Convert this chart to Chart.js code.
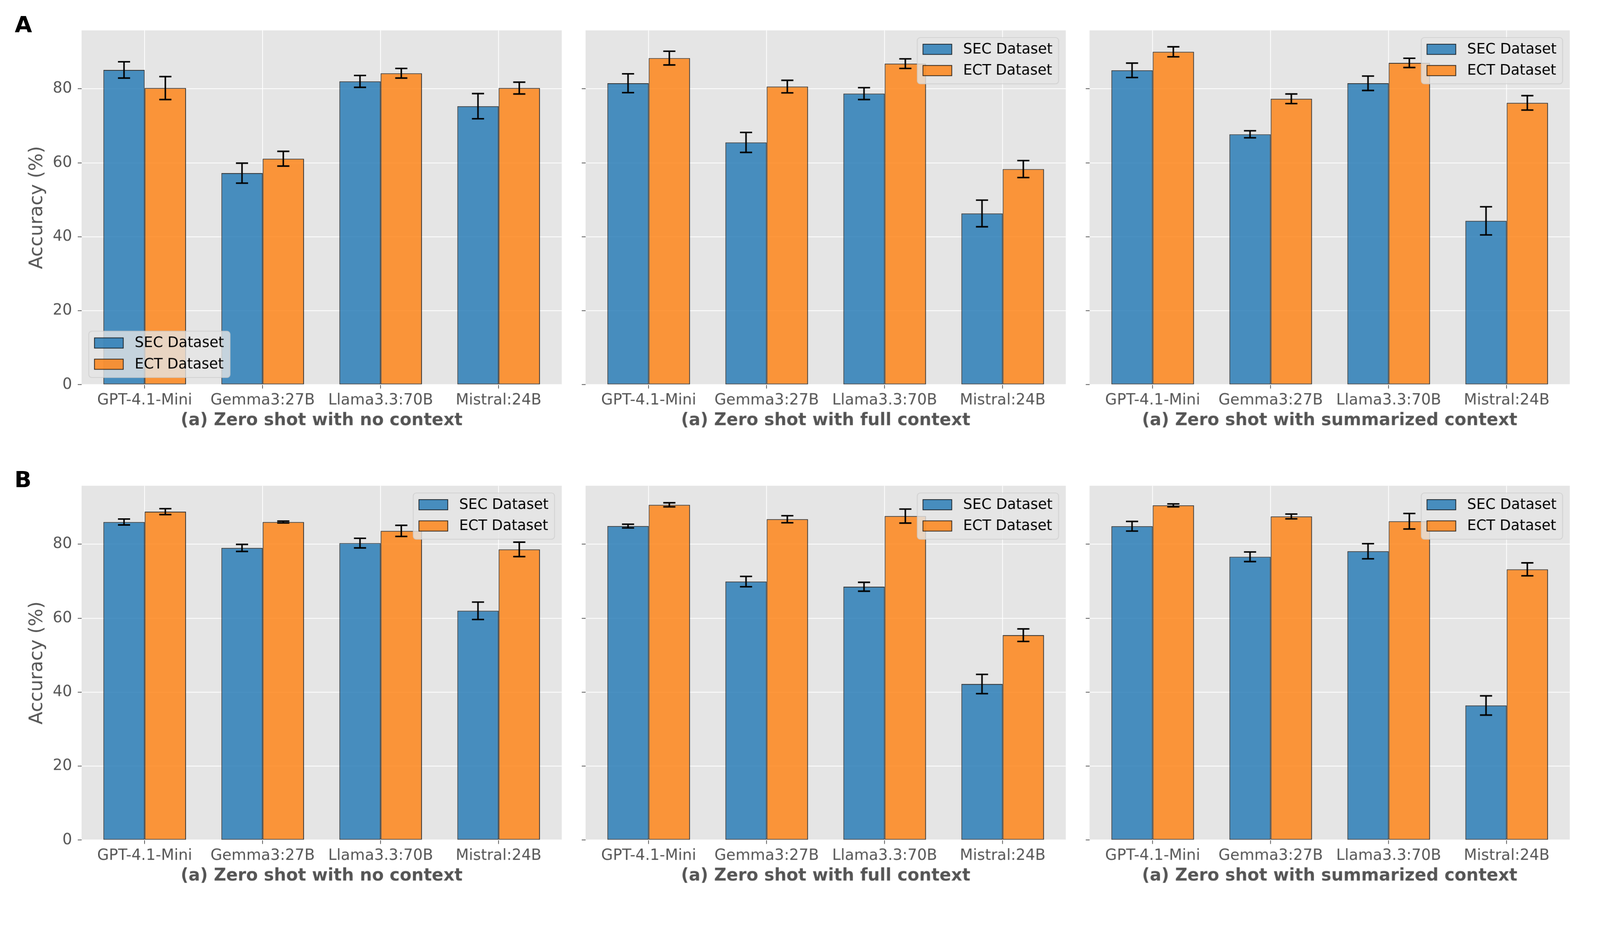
<!DOCTYPE html>
<html>
<head>
<meta charset="utf-8">
<script src="https://cdn.jsdelivr.net/npm/chart.js@4.4.1/dist/chart.umd.min.js"></script>
<style>
  html, body { margin: 0; padding: 0; background: #fff; overflow: hidden; }
  #fig { position: absolute; left: 0; top: 0; width: 4219px; height: 2417px; background: #fff; transform-origin: 0 0; }
  .panel { position: absolute; }
  .letter { position: absolute; font: bold 59px "DejaVu Sans"; line-height: 1; color: #000; }
</style>
</head>
<body>
<div id="fig">
  <div class="letter" style="left:39px;top:35px">A</div>
  <div class="letter" style="left:38px;top:1235px">B</div>
</div>
<script>
// categories and labels
const categories = ['GPT-4.1-Mini', 'Gemma3:27B', 'Llama3.3:70B', 'Mistral:24B'];
const subtitles = ['(a) Zero shot with no context', '(a) Zero shot with full context', '(a) Zero shot with summarized context'];
const yTickValues = [0, 20, 40, 60, 80];
const seriesNames = ['SEC Dataset', 'ECT Dataset'];

// row A
const aNoSec = [85.1, 57.2, 82.0, 75.3], aNoSecErr = [2.2, 2.7, 1.6, 3.4];
const aNoEct = [80.2, 61.1, 84.2, 80.2], aNoEctErr = [3.1, 2.0, 1.3, 1.6];
const aFullSec = [81.5, 65.5, 78.7, 46.3], aFullSecErr = [2.55, 2.7, 1.6, 3.6];
const aFullEct = [88.3, 80.6, 86.8, 58.3], aFullEctErr = [1.85, 1.7, 1.3, 2.3];
const aSumSec = [85.0, 67.7, 81.5, 44.3], aSumSecErr = [1.95, 0.95, 1.95, 3.8];
const aSumEct = [90.0, 77.3, 87.0, 76.2], aSumEctErr = [1.35, 1.3, 1.25, 1.95];

// row B
const bNoSec = [86.0, 79.0, 80.3, 62.0], bNoSecErr = [0.8, 0.95, 1.3, 2.35];
const bNoEct = [88.8, 86.0, 83.6, 78.6], bNoEctErr = [0.8, 0.25, 1.5, 1.95];
const bFullSec = [84.9, 69.9, 68.5, 42.2], bFullSecErr = [0.5, 1.4, 1.2, 2.6];
const bFullEct = [90.65, 86.75, 87.6, 55.4], bFullEctErr = [0.55, 0.95, 1.9, 1.7];
const bSumSec = [84.85, 76.6, 78.1, 36.4], bSumSecErr = [1.3, 1.3, 2.05, 2.6];
const bSumEct = [90.5, 87.5, 86.2, 73.2], bSumEctErr = [0.4, 0.65, 2.1, 1.75];

Chart.defaults.font.family = "'DejaVu Sans'";

// fit the 4219x2417 figure into whatever viewport we get
const fig = document.getElementById('fig');
const scale = Math.min(window.innerWidth / 4219, window.innerHeight / 2417);
fig.style.transform = 'scale(' + scale + ')';
const dpr = (window.devicePixelRatio || 1) * scale;

// layout (pixels)
const colLeft = [215, 1544, 2873], rowTop = [80, 1281];
const plotW = 1266, plotH = 934;
const padTop = 45, padRight = 20, xAxisH = 130;

// error bars drawn from the y scale
const errorBars = {
    id: 'errorBars',
    afterDatasetsDraw(chart) {
        const ctx = chart.ctx, y = chart.scales.y;
        ctx.save();
        ctx.strokeStyle = '#000';
        ctx.lineWidth = 4;
        chart.data.datasets.forEach((ds, di) => {
            chart.getDatasetMeta(di).data.forEach((bar, i) => {
                const v = ds.data[i].y, e = ds.err[i];
                const t = y.getPixelForValue(v + e), b = y.getPixelForValue(v - e);
                ctx.beginPath();
                ctx.moveTo(bar.x, t); ctx.lineTo(bar.x, b);
                ctx.moveTo(bar.x - 16, t); ctx.lineTo(bar.x + 16, t);
                ctx.moveTo(bar.x - 16, b); ctx.lineTo(bar.x + 16, b);
                ctx.stroke();
            });
        });
        ctx.restore();
    }
};

// legend inside the plot, matplotlib style
const insideLegend = {
    id: 'insideLegend',
    afterDraw(chart, args, opts) {
        const ctx = chart.ctx, a = chart.chartArea;
        const f = 38;
        ctx.save();
        ctx.font = f + "px 'DejaVu Sans'";
        const items = chart.data.datasets;
        const tw = Math.max(...items.map(d => ctx.measureText(d.label).width));
        const w = 15 + 76 + 30 + tw + 16, h = 122;
        const lowerLeft = opts.loc === 'lower left';
        const x = lowerLeft ? a.left + 19 : a.right - 19 - w;
        const y = lowerLeft ? a.bottom - 19 - h : a.top + 19;
        ctx.beginPath();
        ctx.roundRect(x, y, w, h, 8);
        ctx.fillStyle = 'rgba(229,229,229,0.8)';
        ctx.fill();
        ctx.strokeStyle = 'rgba(204,204,204,0.8)';
        ctx.lineWidth = 2;
        ctx.stroke();
        items.forEach((d, i) => {
            const cy = y + 31 + i * 56;
            ctx.fillStyle = d.backgroundColor;
            ctx.fillRect(x + 15, cy - 13.5, 76, 27);
            ctx.strokeStyle = d.borderColor;
            ctx.lineWidth = 2;
            ctx.strokeRect(x + 15, cy - 13.5, 76, 27);
            ctx.fillStyle = '#000';
            ctx.textBaseline = 'middle';
            ctx.fillText(d.label, x + 121, cy + 1);
        });
        ctx.restore();
    }
};

const plotBg = {
    id: 'plotBg',
    beforeDraw(chart) {
        const a = chart.chartArea, ctx = chart.ctx;
        ctx.save();
        ctx.fillStyle = '#e5e5e5';
        ctx.fillRect(a.left, a.top, a.right - a.left, a.bottom - a.top);
        ctx.restore();
    }
};

const makePanel = (col, row, sec, secErr, ect, ectErr, legendLoc) => {
    const leftW = col === 0 ? 215 : 40;
    const div = document.createElement('div');
    div.className = 'panel';
    div.style.left = (colLeft[col] - leftW) + 'px';
    div.style.top = (rowTop[row] - padTop) + 'px';
    div.style.width = (leftW + plotW + padRight) + 'px';
    div.style.height = (padTop + plotH + xAxisH) + 'px';
    const canvas = document.createElement('canvas');
    div.appendChild(canvas);
    fig.appendChild(div);

    const bar = (label, vals, errs, color) => ({
        label: label,
        data: vals.map((v, i) => ({x: i, y: v})),
        err: errs,
        backgroundColor: color,
        borderColor: 'rgba(0,0,0,0.8)',
        borderWidth: 2,
        borderSkipped: false,
        categoryPercentage: 0.7,
        barPercentage: 1.0
    });

    new Chart(canvas.getContext('2d'), {
        type: 'bar',
        data: {
            datasets: [
                bar(seriesNames[0], sec, secErr, 'rgba(31,119,180,0.8)'),
                bar(seriesNames[1], ect, ectErr, 'rgba(255,127,14,0.8)')
            ]
        },
        options: {
            responsive: true,
            maintainAspectRatio: false,
            animation: false,
            devicePixelRatio: dpr,
            layout: {padding: {top: padTop, right: padRight, left: 0, bottom: 0}},
            plugins: {
                legend: {display: false},
                tooltip: {enabled: false},
                insideLegend: {loc: legendLoc}
            },
            scales: {
                x: {
                    type: 'linear',
                    min: -0.535,
                    max: 3.535,
                    offset: false,
                    afterBuildTicks: s => { s.ticks = categories.map((_, i) => ({value: i})); },
                    afterFit: s => { s.height = xAxisH; },
                    ticks: {
                        callback: v => categories[v],
                        color: '#555555',
                        font: {size: 40},
                        padding: 8,
                        maxRotation: 0,
                        autoSkip: false
                    },
                    grid: {color: '#ffffff', lineWidth: 2, offset: false, tickColor: '#555555', tickLength: 10, tickWidth: 2},
                    border: {display: false},
                    title: {
                        display: true,
                        text: subtitles[col],
                        color: '#555555',
                        font: {size: 45, weight: 'bold'},
                        padding: {top: 0, bottom: 8}
                    }
                },
                y: {
                    min: 0,
                    max: 95.8,
                    afterBuildTicks: s => { s.ticks = yTickValues.map(v => ({value: v})); },
                    afterFit: s => { s.width = leftW; },
                    ticks: {
                        callback: v => col === 0 ? v : '',
                        color: '#555555',
                        font: {size: 40},
                        padding: 15
                    },
                    grid: {color: '#ffffff', lineWidth: 2, tickColor: '#555555', tickLength: 10, tickWidth: 2},
                    border: {display: false},
                    title: {
                        display: col === 0,
                        text: 'Accuracy (%)',
                        color: '#555555',
                        font: {size: 49},
                        padding: {top: 69, bottom: 0}
                    }
                }
            }
        },
        plugins: [plotBg, errorBars, insideLegend]
    });
};

makePanel(0, 0, aNoSec, aNoSecErr, aNoEct, aNoEctErr, 'lower left');
makePanel(1, 0, aFullSec, aFullSecErr, aFullEct, aFullEctErr, 'upper right');
makePanel(2, 0, aSumSec, aSumSecErr, aSumEct, aSumEctErr, 'upper right');
makePanel(0, 1, bNoSec, bNoSecErr, bNoEct, bNoEctErr, 'upper right');
makePanel(1, 1, bFullSec, bFullSecErr, bFullEct, bFullEctErr, 'upper right');
makePanel(2, 1, bSumSec, bSumSecErr, bSumEct, bSumEctErr, 'upper right');
</script>
</body>
</html>
